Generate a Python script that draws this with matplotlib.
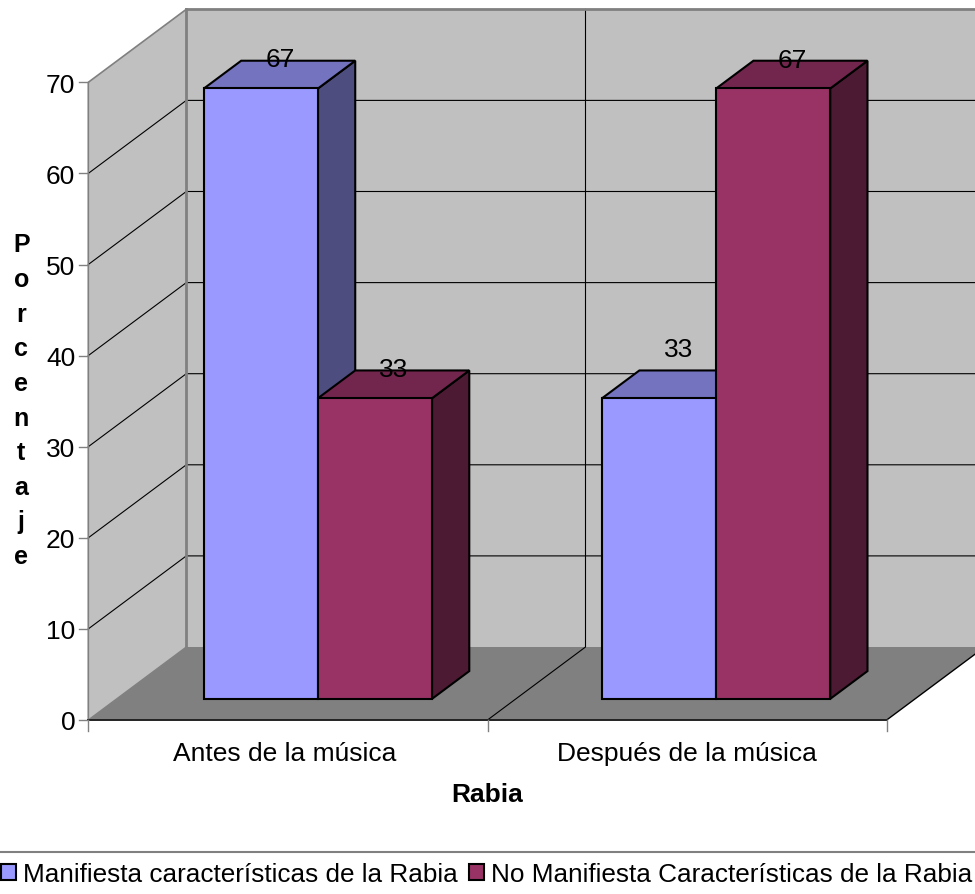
import matplotlib
matplotlib.use("Agg")
from matplotlib import pyplot as plt
from matplotlib.patches import Polygon, Patch

plt.rcParams['font.family'] = ['Liberation Sans', 'DejaVu Sans']

categories = ['Antes de la música', 'Después de la música']
series_names = ['Manifiesta características de la Rabia',
                'No Manifiesta Características de la Rabia']
manifiesta = [67, 33]
no_manifiesta = [33, 67]
y_ticks = [0, 10, 20, 30, 40, 50, 60, 70]
x_title = 'Rabia'
y_title = 'Porcentaje'

front_colors = ['#9999ff', '#993366']
top_colors = ['#7373bf', '#73264d']
side_colors = ['#4d4d80', '#4d1a33']
wall = '#c0c0c0'
floor = '#808080'
edge_grey = '#808080'

# size of one category and one percent on the canvas
cat_px = 399.2
unit_px = 9.11
x0_px = 88.3
y0_px = 721

# how far the full depth of the box shifts a point, in data units
depth_x = 98 / cat_px
depth_y = 73 / unit_px

bar_w = 0.2857
bar_gap = 0.2185
group_step = 0.9975
bar_d0 = 0.29
bar_d1 = 0.67


def proj(c, v, d=0.0):
    # oblique projection of (category, value, depth) to axes data
    return c + d * depth_x, v + d * depth_y


def face(ax, pts, **kw):
    ax.add_patch(Polygon([proj(*p) for p in pts], closed=True, **kw))


fig = plt.figure(figsize=(9.75, 8.95), dpi=100)
ax = fig.add_axes([0, 0, 1, 1])
ax.set_xlim(-x0_px / cat_px, (975 - x0_px) / cat_px)
ax.set_ylim((y0_px - 895) / unit_px, y0_px / unit_px)
ax.axis('off')

n_cat = len(categories)
y_max = y_ticks[-1]

# walls and floor
face(ax, [(0, 0, 1), (n_cat, 0, 1), (n_cat, y_max, 1), (0, y_max, 1)], fc=wall, ec='none', zorder=1)
face(ax, [(0, 0, 0), (0, 0, 1), (0, y_max, 1), (0, y_max, 0)], fc=wall, ec='none', zorder=1)
face(ax, [(0, 0, 0), (n_cat, 0, 0), (n_cat, 0, 1), (0, 0, 1)], fc=floor, ec='none', zorder=1)

# gridlines
for t in y_ticks[1:-1]:
    xs, ys = zip(proj(0, t, 0), proj(0, t, 1), proj(n_cat, t, 1))
    ax.plot(xs, ys, color='black', lw=0.8, zorder=2)
xs, ys = zip(proj(1, 0, 0), proj(1, 0, 1), proj(1, y_max, 1))
ax.plot(xs, ys, color='black', lw=0.8, zorder=2)
xs, ys = zip(proj(n_cat, 0, 0), proj(n_cat, 0, 1))
ax.plot(xs, ys, color='black', lw=1.0, zorder=2)

# wall outlines
xs, ys = zip(proj(0, 0, 0), proj(0, y_max, 0), proj(0, y_max, 1))
ax.plot(xs, ys, color=edge_grey, lw=1.2, zorder=3)
xs, ys = zip(proj(0, y_max, 1), proj(0, 0, 1))
ax.plot(xs, ys, color=edge_grey, lw=2.0, zorder=3)
xs, ys = zip(proj(0, 0, 0), proj(0, 0, 1))
ax.plot(xs, ys, color=edge_grey, lw=1.0, zorder=3)
xs, ys = zip(proj(0, y_max, 1), proj(n_cat, y_max, 1))
ax.plot(xs, ys, color=edge_grey, lw=2.0, zorder=3)
ax.plot([0, n_cat], [0, 0], color='#222222', lw=1.4, zorder=3)

# axis ticks
for t in y_ticks:
    ax.plot([-9 / cat_px, 0], [t, t], color=edge_grey, lw=1.0, zorder=3)
    ax.text(-13 / cat_px, t, str(t), ha='right', va='center_baseline', fontsize=19, zorder=5)
for c in range(n_cat + 1):
    ax.plot([c, c], [0, -11 / unit_px], color=edge_grey, lw=1.0, zorder=3)
for c, name in enumerate(categories):
    ax.text(c * 1.0075 + 0.4925, -33 / unit_px, name, ha='center', va='center', fontsize=19, zorder=5)

# bars, drawn back faces first so neighbours overlap correctly
z = 4
label_lift = [32, 32, 52, 31]
k = 0
for c in range(n_cat):
    vals = [manifiesta[c], no_manifiesta[c]]
    for s, v in enumerate(vals):
        left = c * group_step + bar_gap + s * bar_w
        right = left + bar_w
        kw = dict(ec='black', lw=1.5, joinstyle='miter', zorder=z)
        face(ax, [(right, 0, bar_d0), (right, 0, bar_d1), (right, v, bar_d1), (right, v, bar_d0)], fc=side_colors[s], **kw)
        face(ax, [(left, v, bar_d0), (right, v, bar_d0), (right, v, bar_d1), (left, v, bar_d1)], fc=top_colors[s], **kw)
        face(ax, [(left, 0, bar_d0), (right, 0, bar_d0), (right, v, bar_d0), (left, v, bar_d0)], fc=front_colors[s], **kw)
        lx, ly = proj((left + right) / 2, v, bar_d0)
        ax.text(lx + 19 / cat_px, ly + label_lift[k] / unit_px, str(v),
                ha='center', va='center_baseline', fontsize=19, zorder=6)
        k += 1

# axis titles
ax.text(1.0, -74 / unit_px, x_title, ha='center', va='center', fontsize=19, fontweight='bold', zorder=5)
ax.text(-67 / cat_px, 35.1, '\n'.join(y_title), ha='center', va='center', fontsize=18,
        fontweight='bold', linespacing=1.56, zorder=5)

# legend along the bottom edge
ax.plot(ax.get_xlim(), [-132 / unit_px] * 2, color=edge_grey, lw=1.5, zorder=3)
handles = [Patch(fc=col, ec='black', lw=1.5) for col in front_colors]
ax.legend(handles, series_names, ncol=2, frameon=False, fontsize=18.85,
          loc='lower left', bbox_to_anchor=(1 / 975, 8 / 895), handlelength=0.58, handleheight=0.58,
          handletextpad=0.25, columnspacing=0.45, borderaxespad=0, borderpad=0)

fig.savefig('out.png', dpi=100)
